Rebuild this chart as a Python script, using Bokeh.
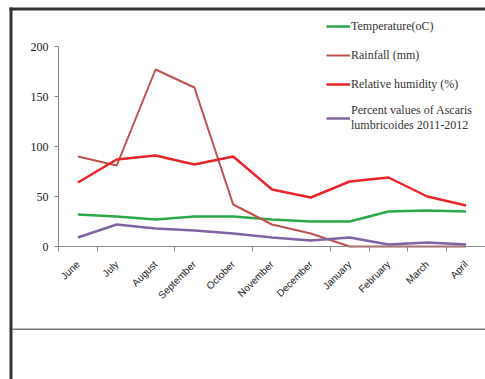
import math
from bokeh.plotting import figure
from bokeh.models import FixedTicker, Legend, LegendItem, BoxAnnotation
from bokeh.embed import file_html
from bokeh.resources import INLINE

months = ["June", "July", "August", "September", "October", "November",
          "December", "January", "February", "March", "April"]
temperature = [32, 30, 27, 30, 30, 27, 25, 25, 35, 36, 35]
rainfall = [90, 81, 177, 159, 42, 22, 13, 0, 0, 0, 0]
humidity = [64, 87, 91, 82, 90, 57, 49, 65, 69, 50, 41]
ascaris = [9, 22, 18, 16, 13, 9, 6, 9, 2, 4, 2]
y_ticks = [0, 50, 100, 150, 200]
x_tick_bounds = [0, 1, 3, 5, 7, 8, 9, 10]

x = [i + 0.5 for i in range(len(months))]

# layout: plot area spans canvas x 58..485 and y 46..246 (value 200..0)
W, H = 485, 379
AX_LEFT, AX_RIGHT = 58, 485
AX_TOP, AX_BOTTOM = 46, 246
n = len(months)
px_per_cat = (AX_RIGHT - AX_LEFT) / n
px_per_unit = (AX_BOTTOM - AX_TOP) / 200
x_start = -AX_LEFT / px_per_cat
y_start = -(H - AX_BOTTOM) / px_per_unit
y_end = 200 + AX_TOP / px_per_unit

p = figure(width=W, height=H, x_range=(x_start, n), y_range=(y_start, y_end),
           output_backend="svg", toolbar_location=None,
           min_border_left=0, min_border_right=0, min_border_top=0,
           min_border_bottom=0)
p.outline_line_color = None
p.xgrid.visible = False
p.ygrid.visible = False
p.background_fill_color = "white"
p.border_fill_color = "white"

r_t = p.line(x, temperature, line_color="#2ca84a", line_width=2.5)
r_r = p.line(x, rainfall, line_color="#c0504d", line_width=2)
r_h = p.line(x, humidity, line_color="#e8262a", line_width=2.5)
r_a = p.line(x, ascaris, line_color="#8064a2", line_width=2.5)

xa = p.xaxis[0]
xa.fixed_location = 0
xa.bounds = (0, n)
xa.ticker = FixedTicker(ticks=x, minor_ticks=x_tick_bounds)
xa.major_label_overrides = {xi: m for xi, m in zip(x, months)}
xa.major_tick_out = 0
xa.major_tick_in = 0
xa.minor_tick_out = 5
xa.minor_tick_in = 0
xa.minor_tick_line_color = "#888888"
xa.axis_line_color = "#888888"
xa.major_label_orientation = math.pi / 4
xa.major_label_text_font = "Liberation Sans"
xa.major_label_text_font_size = "10px"
xa.major_label_text_color = "#222222"
xa.major_label_standoff = 11

ya = p.yaxis[0]
ya.fixed_location = 0
ya.bounds = (0, 200)
ya.ticker = FixedTicker(ticks=y_ticks)
ya.major_tick_out = 4
ya.major_tick_in = 0
ya.minor_tick_out = 0
ya.minor_tick_in = 0
ya.major_tick_line_color = "#888888"
ya.axis_line_color = "#888888"
ya.major_label_text_font = "Liberation Serif"
ya.major_label_text_font_size = "12px"
ya.major_label_text_color = "#222222"
ya.major_label_standoff = 6

legend = Legend(items=[
    LegendItem(label="Temperature(oC)", renderers=[r_t]),
    LegendItem(label="Rainfall (mm)", renderers=[r_r]),
    LegendItem(label="Relative humidity (%)", renderers=[r_h]),
    LegendItem(label="Percent values of Ascaris\nlumbricoides 2011-2012", renderers=[r_a]),
], location=(326, 246))
legend.label_text_font = "Liberation Serif"
legend.label_text_font_size = "12px"
legend.label_text_color = "#333333"
legend.glyph_width = 24
legend.glyph_height = 10
legend.label_standoff = 1
legend.padding = 0
legend.margin = 0
legend.spacing = 9
legend.label_height = 20
legend.border_line_color = None
legend.background_fill_alpha = 0
p.add_layout(legend)

canvas_units = dict(left_units="canvas", right_units="canvas",
                    top_units="canvas", bottom_units="canvas")
p.add_layout(BoxAnnotation(left=9, right=W, top=7, bottom=10, fill_color="#333333",
                           fill_alpha=1, line_color=None, **canvas_units))
p.add_layout(BoxAnnotation(left=9, right=12, top=7, bottom=H, fill_color="#333333",
                           fill_alpha=1, line_color=None, **canvas_units))
p.add_layout(BoxAnnotation(left=12, right=W, top=328, bottom=329.5, fill_color="#777777",
                           fill_alpha=1, line_color=None, **canvas_units))

open("out.html", "w").write(file_html(p, INLINE))
